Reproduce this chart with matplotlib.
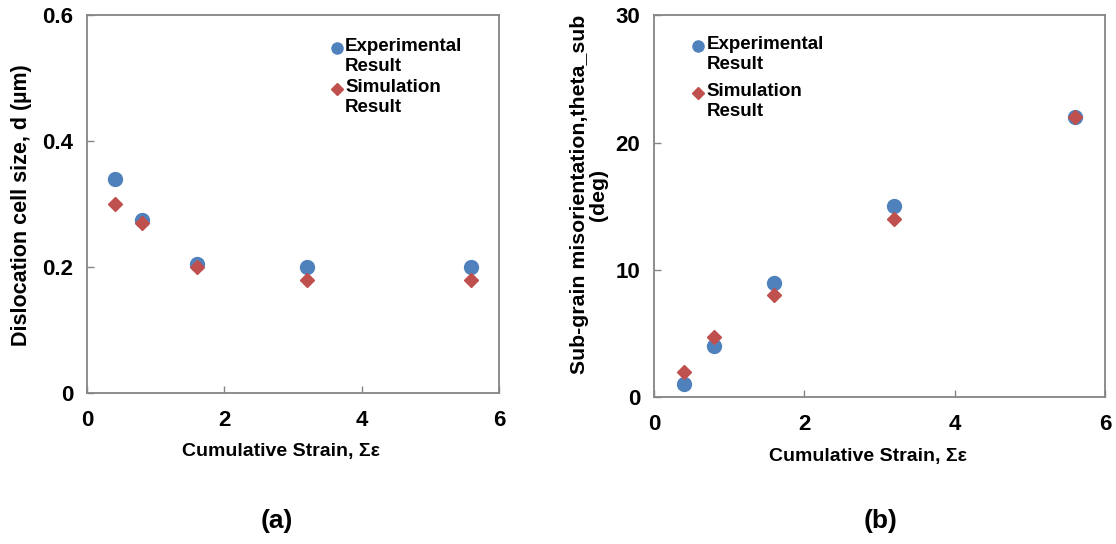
import matplotlib.pyplot as plt

# cumulative strain at each pass
strain = [0.4, 0.8, 1.6, 3.2, 5.6]

# (a) dislocation cell size, um
cell_exp = [0.34, 0.275, 0.205, 0.20, 0.20]
cell_sim = [0.30, 0.27, 0.20, 0.18, 0.18]

# (b) sub-grain misorientation, deg
theta_exp = [1.0, 4.0, 9.0, 15.0, 22.0]
theta_sim = [2.0, 4.7, 8.0, 14.0, 22.0]

legend_labels = ["Experimental\nResult", "Simulation\nResult"]

BLUE = "#4F81BD"
RED = "#C0504D"
GREY = "#858585"

plt.rcParams["font.family"] = ["Liberation Sans", "DejaVu Sans"]
plt.rcParams["font.weight"] = "bold"


def style_axes(ax, ylim, yticks):
    ax.set_xlim(0, 6)
    ax.set_ylim(*ylim)
    ax.set_xticks([0, 2, 4, 6])
    ax.set_yticks(yticks)
    for s in ax.spines.values():
        s.set_color(GREY)
        s.set_linewidth(1.3)
    ax.tick_params(direction="in", length=5, width=1, color=GREY,
                   labelsize=16)
    ax.tick_params(axis="y", pad=10)
    ax.tick_params(axis="x", pad=12)
    for lab in ax.get_xticklabels() + ax.get_yticklabels():
        lab.set_fontweight("bold")


def draw_key(ax, x, ys):
    # hand-made legend: marker beside the first line of a two-line label
    ax.plot([x], [ys[0]], "o", color=BLUE, ms=8, transform=ax.transAxes,
            clip_on=False)
    ax.plot([x], [ys[1]], "D", color=RED, ms=6, transform=ax.transAxes,
            clip_on=False)
    for y, lab in zip(ys, legend_labels):
        ax.text(x + 0.02, y + 0.026, lab, transform=ax.transAxes,
                fontsize=13.5, fontweight="bold", va="top", ha="left",
                linespacing=1.25)


fig = plt.figure(figsize=(11.16, 5.44), dpi=100)

# panel (a)
ax1 = fig.add_axes([0.078, 0.2776, 0.369, 0.695])
ax1.plot(strain, cell_exp, "o", color=BLUE, ms=10, zorder=3)
ax1.plot(strain, cell_sim, "D", color=RED, ms=7, zorder=4)
style_axes(ax1, (0, 0.6), [0, 0.2, 0.4, 0.6])
ax1.set_yticklabels(["0", "0.2", "0.4", "0.6"])
ax1.set_xlabel("Cumulative Strain, \u03a3\u03b5", fontsize=14,
               fontweight="bold")
ax1.set_ylabel("Dislocation cell size, d (\u00b5m)", fontsize=15.5,
               fontweight="bold")
ax1.xaxis.set_label_coords(0.47, -0.133)
ax1.yaxis.set_label_coords(-0.133, 0.497)
draw_key(ax1, 0.607, [0.913, 0.804])

# panel (b)
ax2 = fig.add_axes([0.586, 0.270, 0.404, 0.702])
ax2.plot(strain, theta_exp, "o", color=BLUE, ms=10, zorder=3)
ax2.plot(strain, theta_sim, "D", color=RED, ms=7, zorder=4)
style_axes(ax2, (0, 30), [0, 10, 20, 30])
ax2.set_xlabel("Cumulative Strain, \u03a3\u03b5", fontsize=14,
               fontweight="bold")
ax2.set_ylabel("Sub-grain misorientation,theta_sub\n(deg)", fontsize=15.3,
               fontweight="bold", linespacing=1.0)
ax2.xaxis.set_label_coords(0.475, -0.134)
ax2.yaxis.set_label_coords(-0.102, 0.53)
draw_key(ax2, 0.097, [0.919, 0.796])

fig.text(0.248, 0.03, "(a)", fontsize=19, fontweight="bold", ha="center")
fig.text(0.789, 0.03, "(b)", fontsize=19, fontweight="bold", ha="center")

fig.savefig("out.png", dpi=100)
